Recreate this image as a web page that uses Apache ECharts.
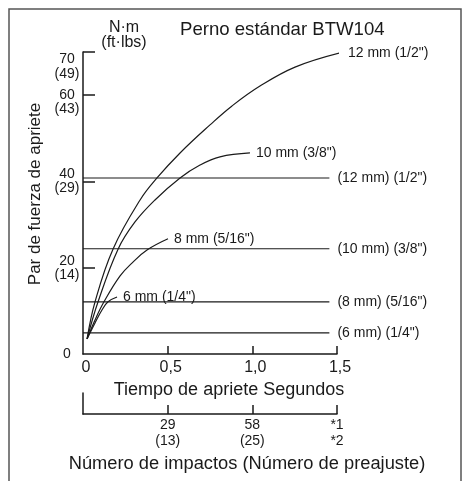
<!DOCTYPE html>
<html>
<head>
<meta charset="utf-8">
<script src="https://cdn.jsdelivr.net/npm/echarts@6/dist/echarts.min.js"></script>
<style>
  html, body { margin: 0; padding: 0; background: #fff; }
  #chart { width: 464px; height: 481px; }
</style>
</head>
<body>
<div id="chart"></div>
<script>
// curvas de apriete (tiempo s, par N·m)
var names = ['12 mm (1/2")', '10 mm (3/8")', '8 mm (5/16")', '6 mm (1/4")'];
var t12 = [0.024, 0.071, 0.177, 0.337, 0.437, 0.573, 0.750, 0.880, 1.045, 1.252, 1.518];
var v12 = [3.5, 12.1, 24.3, 35.7, 40.8, 46.6, 53.1, 57.5, 62.1, 66.5, 69.8];
var t10 = [0.024, 0.089, 0.207, 0.307, 0.425, 0.573, 0.691, 0.809, 0.986];
var v10 = [3.5, 12.1, 24.3, 30.6, 35.7, 40.8, 43.8, 45.7, 46.6];
var t8 = [0.024, 0.071, 0.124, 0.219, 0.295, 0.378, 0.502];
var v8 = [3.5, 7.9, 12.1, 18.1, 21.3, 24.1, 26.7];
var t6 = [0.024, 0.071, 0.112, 0.148, 0.201];
var v6 = [3.5, 7.2, 10.2, 12.1, 13.2];

// lineas de par estandar
var refNames = ['(12 mm) (1/2")', '(10 mm) (3/8")', '(8 mm) (5/16")', '(6 mm) (1/4")'];
var refValues = [40.8, 24.4, 12.1, 4.9];
var refEnd = 1.455;

// etiquetas de ejes
var yTicks = [0, 20, 40, 60];
var yTop = [70];
var yFtLbs = {20: 14, 40: 29, 60: 43, 70: 49};
var xTicks = [0, 0.5, 1.0, 1.5];
var impactos = {0.5: ['29', '(13)'], 1: ['58', '(25)'], 1.5: ['*1', '*2']};

var FONT = 'Liberation Sans, Arial, sans-serif';
var INK = '#1a1a1a';

function zip(a, b) {
  var out = [];
  for (var i = 0; i < a.length; i++) out.push([a[i], b[i]]);
  return out;
}

var chart = echarts.init(document.getElementById('chart'));

var series = [];
var curves = [[t12, v12], [t10, v10], [t8, v8], [t6, v6]];
curves.forEach(function (c, i) {
  series.push({
    name: names[i],
    type: 'line',
    xAxisIndex: 0,
    yAxisIndex: 0,
    data: zip(c[0], c[1]),
    smooth: 0.4,
    clip: false,
    symbol: 'none',
    lineStyle: { color: INK, width: 1.2 },
    endLabel: {
      show: true,
      formatter: names[i],
      distance: i === 0 ? 9 : 6,
      color: INK,
      fontSize: 14,
      fontFamily: FONT
    },
    silent: true
  });
});
refValues.forEach(function (v, i) {
  series.push({
    name: refNames[i],
    type: 'line',
    data: [[0, v], [refEnd, v]],
    symbol: 'none',
    lineStyle: { color: INK, width: 1.2 },
    endLabel: {
      show: true,
      formatter: refNames[i],
      distance: 8,
      color: INK,
      fontSize: 14,
      fontFamily: FONT
    },
    silent: true
  });
});
// eje secundario (sin datos propios)
series.push({ type: 'line', xAxisIndex: 1, yAxisIndex: 1, data: [], silent: true });

function yLabel(v) {
  if (v === 0) return '0';
  var s = v + '\n(' + yFtLbs[v] + ')';
  return v === 60 ? '\n' + s : s;
}

chart.setOption({
  animation: false,
  textStyle: { fontFamily: FONT, color: INK },
  title: [
    {
      text: 'Perno estándar BTW104',
      left: 180,
      top: 20,
      padding: 0,
      textStyle: { fontSize: 18.6, fontWeight: 'normal', color: INK, fontFamily: FONT }
    },
    {
      text: 'N·m\n(ft·lbs)',
      left: 124,
      top: 20,
      padding: 0,
      textAlign: 'center',
      textStyle: { fontSize: 16, lineHeight: 15, fontWeight: 'normal', color: INK, fontFamily: FONT, align: 'center' }
    }
  ],
  graphic: [{
    type: 'rect',
    shape: { x: 9, y: 9, width: 452, height: 480 },
    style: { fill: 'none', stroke: '#555', lineWidth: 1.5 },
    silent: true
  }],
  grid: [
    { left: 83, top: 52, width: 254, height: 302 },
    { left: 83, top: 393, width: 254, height: 21 }
  ],
  xAxis: [
    {
      gridIndex: 0,
      type: 'value',
      min: 0,
      max: 1.5,
      interval: 0.5,
      name: 'Tiempo de apriete Segundos',
      nameLocation: 'middle',
      nameGap: 24,
      nameTextStyle: { fontSize: 18, color: INK, padding: [0, 0, 0, 38] },
      axisLine: { show: true, lineStyle: { color: INK, width: 1.5 } },
      axisTick: { show: true, inside: true, length: 8, customValues: [0.5, 1.0, 1.5], lineStyle: { color: INK, width: 1.5 } },
      axisLabel: {
        customValues: xTicks,
        fontSize: 16,
        color: INK,
        margin: 6,
        padding: [0, 0, 0, 6],
        formatter: function (v) { return v === 0 ? '0' : v.toFixed(1).replace('.', ','); }
      },
      splitLine: { show: false }
    },
    {
      gridIndex: 1,
      type: 'value',
      min: 0,
      max: 1.5,
      interval: 0.5,
      name: 'Número de impactos (Número de preajuste)',
      nameLocation: 'middle',
      nameGap: 41,
      nameTextStyle: { fontSize: 18.3, color: INK, padding: [0, 0, 0, 74] },
      axisLine: { show: true, lineStyle: { color: INK, width: 1.5 } },
      axisTick: { show: true, inside: true, length: 9, customValues: [0.5, 1.0, 1.5], lineStyle: { color: INK, width: 1.5 } },
      axisLabel: {
        customValues: [0.5, 1.0, 1.5],
        fontSize: 14,
        lineHeight: 16,
        color: INK,
        margin: 3,
        formatter: function (v) { var p = impactos[v]; return p ? p[0] + '\n' + p[1] : ''; }
      },
      splitLine: { show: false }
    }
  ],
  yAxis: [
    {
      gridIndex: 0,
      type: 'value',
      min: 0,
      max: 70,
      name: 'Par de fuerza de apriete',
      nameLocation: 'middle',
      nameGap: 34,
      nameTextStyle: { fontSize: 17, color: INK, padding: [0, 0, 0, 18] },
      axisLine: { show: true, lineStyle: { color: INK, width: 1.5 } },
      axisTick: { show: true, inside: true, length: 12, customValues: [20, 40, 60], lineStyle: { color: INK, width: 1.5 } },
      axisLabel: {
        customValues: yTicks,
        fontSize: 14,
        lineHeight: 14,
        color: INK,
        align: 'center',
        margin: 16,
        formatter: yLabel
      },
      splitLine: { show: false }
    },
    {
      gridIndex: 1,
      type: 'value',
      min: 0,
      max: 1,
      axisLine: { show: true, lineStyle: { color: INK, width: 1.5 } },
      axisTick: { show: false },
      axisLabel: { show: false },
      splitLine: { show: false }
    },
    {
      // marca superior 70 (49), con la etiqueta bajo la marca
      gridIndex: 0,
      type: 'value',
      position: 'left',
      min: 0,
      max: 70,
      axisLine: { show: false },
      axisTick: { show: true, inside: true, length: 12, customValues: yTop, lineStyle: { color: INK, width: 1.5 } },
      axisLabel: {
        customValues: yTop,
        fontSize: 14,
        lineHeight: 15,
        color: INK,
        align: 'center',
        verticalAlign: 'top',
        margin: 16,
        formatter: yLabel
      },
      splitLine: { show: false }
    }
  ],
  series: series
});
</script>
</body>
</html>
